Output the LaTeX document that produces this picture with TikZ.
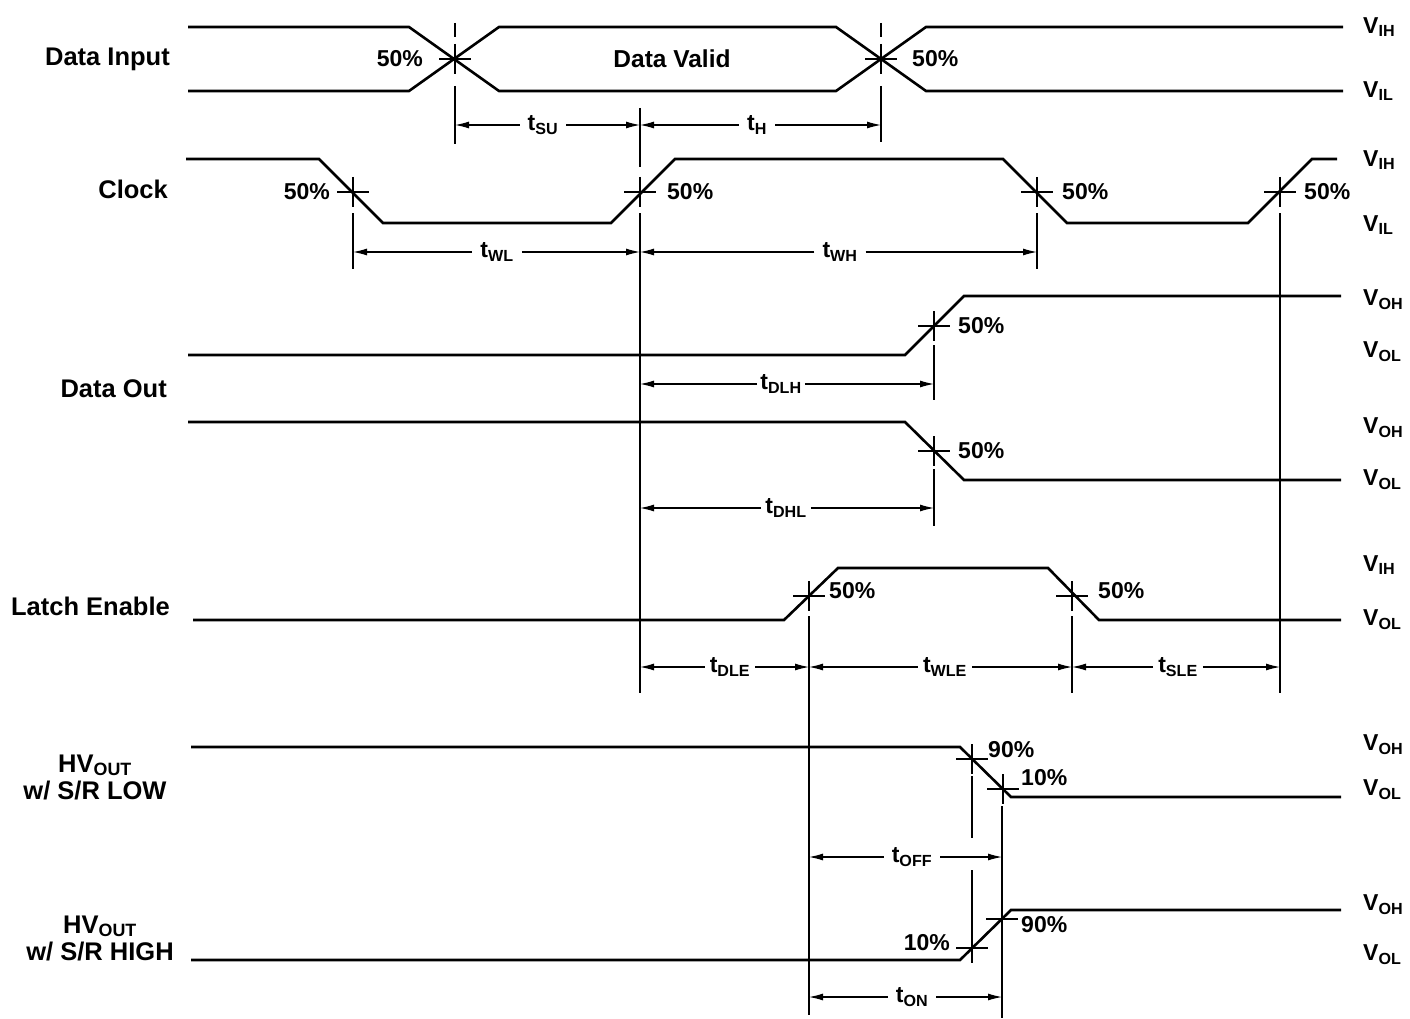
\documentclass[tikz,border=0pt]{standalone}
\usepackage{fontspec}
\setmainfont{Liberation Sans}
\usetikzlibrary{arrows.meta,positioning}
\tikzset{
sig/.style={line width=2.6pt,line join=miter},
thinline/.style={line width=1.1pt},
timearrow/.style={line width=1.1pt,-{Latex[length=14pt,width=7pt]}},
signame/.style={font=\fontsize{25.5}{27}\selectfont\bfseries,anchor=east,inner sep=0pt},
pct/.style={font=\fontsize{23}{27}\selectfont\bfseries,inner sep=2pt},
volt/.style={font=\fontsize{23}{27}\selectfont\bfseries,anchor=west,inner sep=0pt},
tlab/.style={font=\fontsize{23}{27}\selectfont\bfseries,inner sep=8pt},
cross/.pic={\draw[thinline] (-16,0) -- (16,0) (0,-15) -- (0,15);}
}
\begin{document}
\begin{tikzpicture}[x=1pt,y=-1pt]
\useasboundingbox (0,0) rectangle (1410,1019);

% signal names
\node[signame] (din) at (170,59) {Data Input};
\node[signame] (clk) at (168,189) {Clock};
\node[signame] (dout) at (167,389) {Data Out};
\node[signame] (le) at (170,606) {Latch Enable};
\node[signame,anchor=center,align=center] (hvlow) at (95,777) {HV\textsubscript{OUT}\\w/ S/R LOW};
\node[signame,anchor=center,align=center] (hvhigh) at (100,938) {HV\textsubscript{OUT}\\w/ S/R HIGH};

% levels
\foreach \yy/\lv in {27/IH,91/IL,160/IH,225/IL,300/OH,352/OL,428/OH,480/OL,565/IH,620/OL,745/OH,790/OL,905/OH,955/OL}
  \node[volt] (v-\yy) at (1363,\yy) {V\textsubscript{\lv}};

% data input
\draw[sig] (188,27) -- (409,27) -- (499,91) -- (836,91) -- (926,27) -- (1343,27);
\draw[sig] (188,91) -- (409,91) -- (499,27) -- (836,27) -- (926,91) -- (1343,91);
\node[pct,font=\fontsize{24.5}{27}\selectfont\bfseries] (dvalid) at (672,59) {Data Valid};
\coordinate (di-c1) at (455,59);
\coordinate (di-c2) at (881,59);
\pic at (di-c1) {cross};
\pic at (di-c2) {cross};
\node[pct,left=30pt of di-c1] (di-p1) {50\%};
\node[pct,right=29pt of di-c2] (di-p2) {50\%};
\draw[thinline] (455,23) -- (455,37) (455,86) -- (455,144);
\draw[thinline] (881,23) -- (881,37) (881,86) -- (881,142);

% clock
\draw[sig] (186,159) -- (319,159) -- (383,223) -- (611,223) -- (675,159) -- (1003,159)
  -- (1067,223) -- (1248,223) -- (1312,159) -- (1337,159);
\coordinate (ck-c1) at (353,192);
\coordinate (ck-c2) at (640,192);
\coordinate (ck-c3) at (1037,192);
\coordinate (ck-c4) at (1280,192);
\foreach \c in {ck-c1,ck-c2,ck-c3,ck-c4} \pic at (\c) {cross};
\node[pct,left=21pt of ck-c1] (ck-p1) {50\%};
\node[pct,right=25pt of ck-c2] (ck-p2) {50\%};
\node[pct,right=23pt of ck-c3] (ck-p3) {50\%};
\node[pct,right=22pt of ck-c4] (ck-p4) {50\%};
\draw[thinline] (353,213) -- (353,269);
\draw[thinline] (640,108) -- (640,167) (640,213) -- (640,693);
\draw[thinline] (1037,213) -- (1037,269);
\draw[thinline] (1280,213) -- (1280,693);

% setup and hold
\coordinate (su-a) at (455,125);
\coordinate (su-b) at (640,125);
\coordinate (h-b) at (881,125);
\node[tlab] (tsu) at (543,125) {t\textsubscript{SU}};
\node[tlab] (th) at (757,125) {t\textsubscript{H}};
\draw[timearrow] (tsu) -- (su-a);
\draw[timearrow] (tsu) -- (su-b);
\draw[timearrow] (th) -- (su-b);
\draw[timearrow] (th) -- (h-b);

% clock widths
\coordinate (wl-a) at (353,252);
\coordinate (wl-b) at (640,252);
\coordinate (wh-b) at (1037,252);
\node[tlab] (twl) at (497,252) {t\textsubscript{WL}};
\node[tlab] (twh) at (840,252) {t\textsubscript{WH}};
\draw[timearrow] (twl) -- (wl-a);
\draw[timearrow] (twl) -- (wl-b);
\draw[timearrow] (twh) -- (wl-b);
\draw[timearrow] (twh) -- (wh-b);

% data out
\draw[sig] (188,355) -- (905,355) -- (964,296) -- (1341,296);
\draw[sig] (188,422) -- (905,422) -- (964,480) -- (1341,480);
\coordinate (do-c1) at (934,326);
\coordinate (do-c2) at (934,451);
\pic at (do-c1) {cross};
\pic at (do-c2) {cross};
\node[pct,right=22pt of do-c1] (do-p1) {50\%};
\node[pct,right=22pt of do-c2] (do-p2) {50\%};
\draw[thinline] (934,345) -- (934,400) (934,469) -- (934,526);
\coordinate (dlh-a) at (640,384);
\coordinate (dlh-b) at (934,384);
\coordinate (dhl-a) at (640,508);
\coordinate (dhl-b) at (934,508);
\node[tlab,inner sep=3pt] (tdlh) at (781,384) {t\textsubscript{DLH}};
\node[tlab,inner sep=4pt] (tdhl) at (786,508) {t\textsubscript{DHL}};
\draw[timearrow] (tdlh) -- (dlh-a);
\draw[timearrow] (tdlh) -- (dlh-b);
\draw[timearrow] (tdhl) -- (dhl-a);
\draw[timearrow] (tdhl) -- (dhl-b);

% latch enable
\draw[sig] (193,620) -- (784,620) -- (838,568) -- (1048,568) -- (1099,620) -- (1341,620);
\coordinate (le-c1) at (809,596);
\coordinate (le-c2) at (1072,596);
\pic at (le-c1) {cross};
\pic at (le-c2) {cross};
\node[pct,right=18pt of le-c1,yshift=5pt] (le-p1) {50\%};
\node[pct,right=24pt of le-c2,yshift=5pt] (le-p2) {50\%};
\draw[thinline] (809,616) -- (809,1015);
\draw[thinline] (1072,616) -- (1072,693);
\coordinate (dle-a) at (640,667);
\coordinate (dle-b) at (809,667);
\coordinate (wle-b) at (1072,667);
\coordinate (sle-b) at (1280,667);
\node[tlab,inner sep=5pt] (tdle) at (730,667) {t\textsubscript{DLE}};
\node[tlab,inner sep=5pt] (twle) at (945,667) {t\textsubscript{WLE}};
\node[tlab,inner sep=5pt] (tsle) at (1178,667) {t\textsubscript{SLE}};
\draw[timearrow] (tdle) -- (dle-a);
\draw[timearrow] (tdle) -- (dle-b);
\draw[timearrow] (twle) -- (dle-b);
\draw[timearrow] (twle) -- (wle-b);
\draw[timearrow] (tsle) -- (wle-b);
\draw[timearrow] (tsle) -- (sle-b);

% HV outputs
\draw[sig] (191,747) -- (960,747) -- (1011,797) -- (1341,797);
\draw[sig] (191,960) -- (960,960) -- (1011,910) -- (1341,910);
\coordinate (hl-c1) at (972,759);
\coordinate (hl-c2) at (1003,789);
\coordinate (hh-c1) at (972,948);
\coordinate (hh-c2) at (1002,919);
\foreach \c in {hl-c1,hl-c2,hh-c1,hh-c2} \pic at (\c) {cross};
\node[pct,right=14pt of hl-c1,yshift=9pt] (hl-p1) {90\%};
\node[pct,right=16pt of hl-c2,yshift=11pt] (hl-p2) {10\%};
\node[pct,right=17pt of hh-c2,yshift=-6pt] (hh-p2) {90\%};
\node[pct,left=20pt of hh-c1,yshift=5pt] (hh-p1) {10\%};
\draw[thinline] (972,776) -- (972,838) (972,870) -- (972,963);
\draw[thinline] (1002,806) -- (1002,1018);
\coordinate (off-a) at (809,857);
\coordinate (off-b) at (1002,857);
\coordinate (on-a) at (809,997);
\coordinate (on-b) at (1002,997);
\node[tlab] (toff) at (912,857) {t\textsubscript{OFF}};
\node[tlab] (ton) at (912,997) {t\textsubscript{ON}};
\draw[timearrow] (toff) -- (off-a);
\draw[timearrow] (toff) -- (off-b);
\draw[timearrow] (ton) -- (on-a);
\draw[timearrow] (ton) -- (on-b);
\end{tikzpicture}
\end{document}
